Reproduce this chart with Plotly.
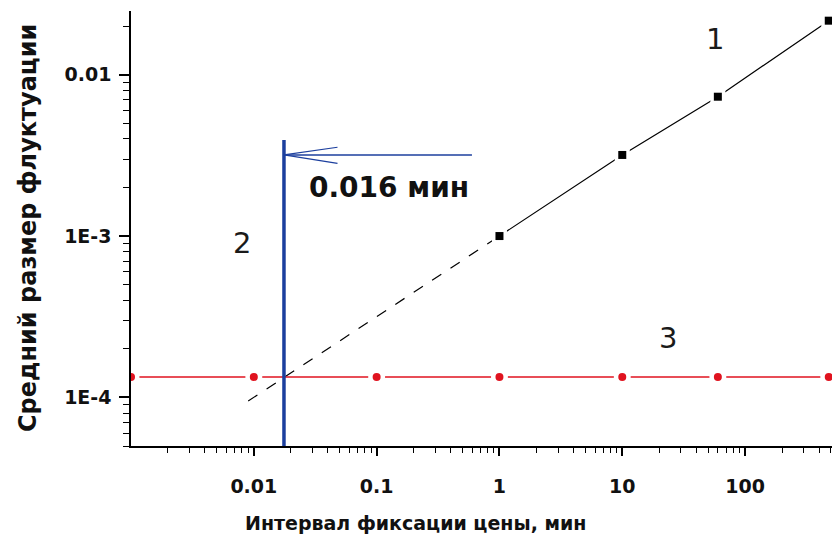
import math
import plotly.graph_objects as go

# ---- data ----
interval_1 = [1, 10, 60, 480]                 # min
fluct_1 = [1.0e-3, 3.18e-3, 7.3e-3, 0.0216]

extrap_x = [0.009, 1.0]                      # dashed extrapolation of series 1
extrap_y = [9.5e-5, 1.0e-3]

interval_3 = [0.001, 0.01, 0.1, 1, 10, 60, 480]
fluct_3 = [1.34e-4, 1.34e-4, 1.34e-4, 1.34e-4, 1.34e-4, 1.34e-4, 1.34e-4]

cross_x = 0.0176                              # blue vertical marker line
cross_top = 3.94e-3
arrow_y = 3.18e-3
arrow_end_x = 0.597
barb_x = 0.048
barb_y = [3.55e-3, 2.82e-3]

x_tick_vals = [0.01, 0.1, 1, 10, 100]
x_tick_text = ["0.01", "0.1", "1", "10", "100"]
y_tick_vals = [1e-4, 1e-3, 1e-2]
y_tick_text = ["1E-4", "1E-3", "0.01"]

x_title = "Интервал фиксации цены, мин"
y_title = "Средний размер флуктуации"
cross_label = "0.016 мин"
curve_labels = ["1", "2", "3"]
curve_label_x = [56.8, 0.0080, 23.6]
curve_label_y = [0.01663, 9.06e-4, 2.33e-4]
cross_label_pos = (0.126, 2.01e-3)

X_RANGE = [-3, 2.7076]
Y_RANGE = [math.log10(5e-5), math.log10(0.0248)]

BLACK = "#000000"
RED = "#e0131f"
BLUE = "#1c3f9e"
FONT = "DejaVu Sans"

fig = go.Figure()

# dashed extrapolation
fig.add_trace(go.Scatter(x=extrap_x, y=extrap_y, mode="lines",
                         line=dict(color=BLACK, width=1.2, dash="11px,11px"),
                         showlegend=False, hoverinfo="skip"))
# series 1 line
fig.add_trace(go.Scatter(x=interval_1, y=fluct_1, mode="lines",
                         line=dict(color=BLACK, width=1.2),
                         showlegend=False, hoverinfo="skip"))
# series 3 line
fig.add_trace(go.Scatter(x=interval_3, y=fluct_3, mode="lines",
                         line=dict(color=RED, width=1.5),
                         showlegend=False, hoverinfo="skip"))
# white halos to make gaps around markers
fig.add_trace(go.Scatter(x=interval_1, y=fluct_1, mode="markers",
                         marker=dict(symbol="square", size=15, color="white"),
                         showlegend=False, hoverinfo="skip"))
fig.add_trace(go.Scatter(x=interval_3, y=fluct_3, mode="markers",
                         marker=dict(symbol="circle", size=17, color="white"),
                         showlegend=False, hoverinfo="skip"))
# markers
fig.add_trace(go.Scatter(x=interval_1, y=fluct_1, mode="markers",
                         marker=dict(symbol="square", size=8, color=BLACK),
                         showlegend=False))
fig.add_trace(go.Scatter(x=interval_3, y=fluct_3, mode="markers",
                         marker=dict(symbol="circle", size=8, color=RED),
                         showlegend=False))
# blue vertical line
fig.add_trace(go.Scatter(x=[cross_x, cross_x], y=[10 ** Y_RANGE[0], cross_top], mode="lines",
                         line=dict(color=BLUE, width=3.5),
                         showlegend=False, hoverinfo="skip"))
# blue arrow shaft and head
fig.add_trace(go.Scatter(x=[arrow_end_x, cross_x], y=[arrow_y, arrow_y], mode="lines",
                         line=dict(color=BLUE, width=1.5),
                         showlegend=False, hoverinfo="skip"))
fig.add_trace(go.Scatter(x=[barb_x, cross_x, barb_x], y=[barb_y[0], arrow_y, barb_y[1]], mode="lines",
                         line=dict(color=BLUE, width=1.2),
                         showlegend=False, hoverinfo="skip"))

annotations = []
for t, lx, ly in zip(curve_labels, curve_label_x, curve_label_y):
    annotations.append(dict(x=math.log10(lx), y=math.log10(ly), xref="x", yref="y",
                            text=t, showarrow=False,
                            font=dict(family=FONT, size=29, color="#1a1a1a")))
annotations.append(dict(x=math.log10(cross_label_pos[0]), y=math.log10(cross_label_pos[1]),
                        xref="x", yref="y", text="<b>" + cross_label + "</b>", showarrow=False,
                        font=dict(family=FONT, size=28, color="#111111")))
annotations.append(dict(x=(415 - 131) / 701, y=(446 - 523) / 435, xref="paper", yref="paper",
                        text="<b>" + x_title + "</b>", showarrow=False,
                        xanchor="center", yanchor="middle",
                        font=dict(family=FONT, size=19, color="#111111")))
annotations.append(dict(x=(28 - 131) / 701, y=(446 - 228) / 435, xref="paper", yref="paper",
                        text="<b>" + y_title + "</b>", showarrow=False, textangle=-90,
                        xanchor="center", yanchor="middle",
                        font=dict(family=FONT, size=24, color="#111111")))

minor_vals = [m * 10 ** e for e in range(-5, 3) for m in range(2, 10)]

tickfont = dict(family=FONT, size=19, color="#111111", weight="bold")

fig.update_layout(
    width=832, height=546,
    margin=dict(l=131, r=0, t=11, b=100),
    paper_bgcolor="white", plot_bgcolor="white",
    annotations=annotations,
    xaxis=dict(type="log", range=X_RANGE, showgrid=False, zeroline=False,
               showline=True, linecolor=BLACK, linewidth=1.5,
               tickmode="array", tickvals=x_tick_vals, ticktext=x_tick_text,
               ticks="outside", ticklen=8, tickwidth=1.5, tickcolor=BLACK,
               ticklabelstandoff=14, tickfont=tickfont,
               minor=dict(tickmode="array", tickvals=minor_vals, ticks="outside",
                          ticklen=5, tickwidth=1.2, tickcolor=BLACK, showgrid=False)),
    yaxis=dict(type="log", range=Y_RANGE, showgrid=False, zeroline=False,
               showline=True, linecolor=BLACK, linewidth=1.5,
               tickmode="array", tickvals=y_tick_vals, ticktext=y_tick_text,
               ticks="outside", ticklen=10, tickwidth=1.5, tickcolor=BLACK,
               ticklabelstandoff=4, tickfont=tickfont,
               minor=dict(tickmode="array", tickvals=minor_vals, ticks="outside",
                          ticklen=6, tickwidth=1.2, tickcolor=BLACK, showgrid=False)),
)

fig.write_html("out.html")
